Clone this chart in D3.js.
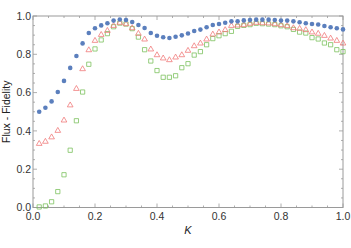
<!DOCTYPE html>
<html>
<head>
<meta charset="utf-8">
<script src="https://cdn.jsdelivr.net/npm/d3@7"></script>
<style>
  html, body { margin: 0; padding: 0; background: #fff; }
  svg { display: block; }
</style>
</head>
<body>
<div id="chart"></div>
<script>
const kValues = [0.02, 0.04, 0.06, 0.08, 0.10, 0.12, 0.14, 0.16, 0.18, 0.20,
  0.22, 0.24, 0.26, 0.28, 0.30, 0.32, 0.34, 0.36, 0.38, 0.40,
  0.42, 0.44, 0.46, 0.48, 0.50, 0.52, 0.54, 0.56, 0.58, 0.60,
  0.62, 0.64, 0.66, 0.68, 0.70, 0.72, 0.74, 0.76, 0.78, 0.80,
  0.82, 0.84, 0.86, 0.88, 0.90, 0.92, 0.94, 0.96, 0.98, 1.00];

const blueSeries = [0.500, 0.521, 0.554, 0.603, 0.661, 0.729, 0.791, 0.857, 0.911, 0.936,
  0.951, 0.962, 0.976, 0.982, 0.979, 0.969, 0.953, 0.937, 0.911, 0.897,
  0.889, 0.885, 0.892, 0.899, 0.909, 0.922, 0.929, 0.941, 0.953, 0.958,
  0.965, 0.972, 0.972, 0.977, 0.979, 0.981, 0.981, 0.981, 0.979, 0.976,
  0.976, 0.972, 0.967, 0.962, 0.958, 0.956, 0.948, 0.941, 0.936, 0.930];

const redSeries = [0.333, 0.344, 0.367, 0.401, 0.455, 0.534, 0.620, 0.723, 0.822, 0.871,
  0.902, 0.923, 0.949, 0.965, 0.958, 0.937, 0.908, 0.878, 0.826, 0.796,
  0.779, 0.770, 0.784, 0.796, 0.819, 0.843, 0.857, 0.878, 0.904, 0.915,
  0.927, 0.949, 0.951, 0.953, 0.960, 0.965, 0.963, 0.962, 0.958, 0.953,
  0.948, 0.937, 0.934, 0.927, 0.915, 0.908, 0.897, 0.883, 0.871, 0.857];

const greenSeries = [0.003, 0.008, 0.030, 0.083, 0.171, 0.299, 0.453, 0.603, 0.748, 0.828,
  0.875, 0.908, 0.944, 0.963, 0.958, 0.934, 0.890, 0.824, 0.765, 0.715,
  0.680, 0.680, 0.688, 0.730, 0.751, 0.796, 0.814, 0.850, 0.882, 0.897,
  0.908, 0.920, 0.946, 0.951, 0.955, 0.962, 0.960, 0.958, 0.955, 0.949,
  0.944, 0.930, 0.916, 0.911, 0.887, 0.880, 0.859, 0.850, 0.824, 0.814];

const majorTicks = [0, 0.2, 0.4, 0.6, 0.8, 1.0];
const tickLabels = ['0.0', '0.2', '0.4', '0.6', '0.8', '1.0'];
const minorTicks = d3.range(0, 1.0001, 0.05);

const width = 351;
const height = 248;
const margin = { top: 16, right: 8, bottom: 40.5, left: 33 };

const svg = d3.select('#chart')
  .append('svg')
  .attr('width', width)
  .attr('height', height);

const x = d3.scaleLinear().domain([0, 1]).range([margin.left, width - margin.right]);
const y = d3.scaleLinear().domain([0, 1]).range([height - margin.bottom, margin.top]);

const frameColor = '#9a9a9a';
const font = '"Liberation Sans", Arial, sans-serif';

// frame
svg.append('rect')
  .attr('x', x(0))
  .attr('y', y(1))
  .attr('width', x(1) - x(0))
  .attr('height', y(0) - y(1))
  .attr('fill', 'none')
  .attr('stroke', frameColor)
  .attr('stroke-width', 1);

// ticks on all four sides, pointing inward
const isMajor = v => majorTicks.some(m => Math.abs(m - v) < 1e-6);
const tickG = svg.append('g').attr('stroke', frameColor).attr('stroke-width', 0.8);
minorTicks.forEach(v => {
  const len = isMajor(v) ? 4 : 2;
  tickG.append('line').attr('x1', x(v)).attr('x2', x(v)).attr('y1', y(0)).attr('y2', y(0) - len);
  tickG.append('line').attr('x1', x(v)).attr('x2', x(v)).attr('y1', y(1)).attr('y2', y(1) + len);
  tickG.append('line').attr('y1', y(v)).attr('y2', y(v)).attr('x1', x(0)).attr('x2', x(0) + len);
  tickG.append('line').attr('y1', y(v)).attr('y2', y(v)).attr('x1', x(1)).attr('x2', x(1) - len);
});

// tick labels
svg.append('g')
  .selectAll('text')
  .data(majorTicks)
  .join('text')
  .attr('x', d => x(d))
  .attr('y', y(0) + 12)
  .attr('text-anchor', 'middle')
  .attr('font-family', font)
  .attr('font-size', '10.5px')
  .attr('fill', '#333')
  .text((d, i) => tickLabels[i]);

svg.append('g')
  .selectAll('text')
  .data(majorTicks)
  .join('text')
  .attr('x', x(0) - 2)
  .attr('y', d => y(d) + 3.8)
  .attr('text-anchor', 'end')
  .attr('font-family', font)
  .attr('font-size', '10.5px')
  .attr('fill', '#333')
  .text((d, i) => tickLabels[i]);

// axis titles
svg.append('text')
  .attr('x', x(0.5))
  .attr('y', 234)
  .attr('text-anchor', 'middle')
  .attr('font-family', font)
  .attr('font-style', 'italic')
  .attr('font-size', '11px')
  .attr('fill', '#222')
  .text('K');

svg.append('text')
  .attr('transform', `translate(10,${y(0.5)}) rotate(-90)`)
  .attr('text-anchor', 'middle')
  .attr('font-family', font)
  .attr('font-size', '10.5px')
  .attr('fill', '#222')
  .text('Flux - Fidelity');

// series
const plot = svg.append('g');

plot.append('g')
  .selectAll('path')
  .data(kValues)
  .join('path')
  .attr('d', d3.symbol(d3.symbolSquare, 18)())
  .attr('transform', (d, i) => `translate(${x(d)},${y(greenSeries[i])})`)
  .attr('fill', 'none')
  .attr('stroke', '#7cc25e')
  .attr('stroke-width', 0.8);

plot.append('g')
  .selectAll('path')
  .data(kValues)
  .join('path')
  .attr('d', d3.symbol(d3.symbolTriangle, 14)())
  .attr('transform', (d, i) => `translate(${x(d)},${y(redSeries[i])})`)
  .attr('fill', 'none')
  .attr('stroke', '#f07a7a')
  .attr('stroke-width', 0.8);

plot.append('g')
  .selectAll('circle')
  .data(kValues)
  .join('circle')
  .attr('cx', d => x(d))
  .attr('cy', (d, i) => y(blueSeries[i]))
  .attr('r', 2.3)
  .attr('fill', '#5b7fbd');
</script>
</body>
</html>
